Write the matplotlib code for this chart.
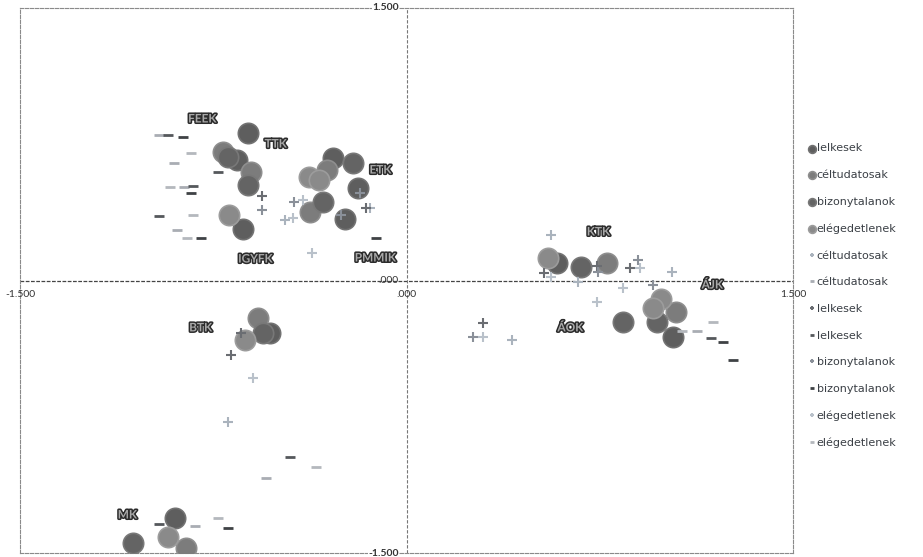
import matplotlib
matplotlib.use("Agg")
import matplotlib.pyplot as plt
import matplotlib.patheffects as pe

plt.rcParams['font.family'] = ['Lato', 'DejaVu Sans']

# --- Faculty group centroids (large circles) ---
kor_lelkesek_x = [-0.617, -0.656, -0.636, -0.287, -0.190, -0.237, 0.586, 1.036, -0.528, -0.900]
kor_lelkesek_y = [0.812, 0.663, 0.283, 0.674, 0.509, 0.338, 0.096, -0.311, -0.289, -1.307]
kor_celtudatosak_x = [-0.714, -0.605, -0.307, -0.373, 0.780, 1.044, -0.578, -0.854]
kor_celtudatosak_y = [0.707, 0.597, 0.608, 0.377, 0.096, -0.173, -0.206, -1.472]
kor_bizonytalanok_x = [-0.691, -0.617, -0.206, -0.326, 0.679, 0.842, 0.974, -0.555, -1.063]
kor_bizonytalanok_y = [0.680, 0.526, 0.647, 0.432, 0.074, -0.228, -0.228, -0.289, -1.445]
kor_elegedetlenek_x = [-0.687, -0.380, -0.341, 0.551, 0.986, 0.958, -0.625, -0.927]
kor_elegedetlenek_y = [0.360, 0.570, 0.553, 0.124, -0.102, -0.151, -0.327, -1.412]

# --- Plus-marker series ---
plusz_celtudatosak_x = [0.559, 0.411, -0.691, -0.470, 0.664, 1.032, -0.140]
plusz_celtudatosak_y = [0.250, -0.327, -0.779, 0.333, -0.008, 0.047, 0.399]
plusz_lelkesek_x = [-0.559, -0.159, 0.295, 0.741, 0.869, -0.644, -0.683, 0.532]
plusz_lelkesek_y = [0.465, 0.399, -0.234, 0.080, 0.069, -0.289, -0.410, 0.041]
plusz_bizonytalanok_x = [-0.559, -0.438, -0.256, 0.745, 0.900, 0.958, 0.260, -0.179]
plusz_bizonytalanok_y = [0.388, 0.432, 0.360, 0.047, 0.113, -0.025, -0.311, 0.482]
plusz_elegedetlenek_x = [-0.400, -0.442, -0.365, 0.559, 0.842, 0.741, 0.908, 0.295, -0.594]
plusz_elegedetlenek_y = [0.443, 0.344, 0.151, 0.019, -0.041, -0.118, 0.069, -0.311, -0.537]

# --- Dash-marker series ---
vonal_celtudatosak_x = [-0.962, -0.904, -0.865, -0.889, 1.129, -0.547, -0.819]
vonal_celtudatosak_y = [0.801, 0.647, 0.515, 0.278, -0.278, -1.087, -1.351]
vonal_lelkesek_x = [-0.927, -0.730, -0.962, 1.180, -0.454, -0.962, -0.827]
vonal_lelkesek_y = [0.801, 0.597, 0.355, -0.316, -0.971, -1.340, 0.520]
vonal_bizonytalanok_x = [-0.869, -0.838, -0.799, -0.120, 1.230, 1.269, -0.691]
vonal_bizonytalanok_y = [0.790, 0.482, 0.234, 0.234, -0.338, -0.438, -1.362]
vonal_elegedetlenek_x = [-0.838, -0.916, -0.827, -0.850, 1.191, 1.071, -0.353, -0.733]
vonal_elegedetlenek_y = [0.702, 0.515, 0.360, 0.234, -0.228, -0.278, -1.026, -1.307]

# --- Faculty labels ---
kar_nevek = ["FEEK", "TTK", "ETK", "IGYFK", "PMMIK", "KTK", "ÁJK", "ÁOK", "BTK", "MK"]
kar_x = [-0.792, -0.508, -0.101, -0.586, -0.120, 0.745, 1.187, 0.636, -0.799, -1.083]
kar_y = [0.889, 0.751, 0.608, 0.118, 0.124, 0.267, -0.025, -0.261, -0.261, -1.291]

# --- Axis value labels ---
tengely_min, tengely_max = -1.5, 1.5
x_felirat = ["-1.500", ".000", "1.500"]
y_felirat = ["1.500", ".000", "-1.500"]

W, H = 923, 557
fig = plt.figure(figsize=(W / 100, H / 100), dpi=100)
ax = fig.add_axes([20 / W, 1 - 553 / H, (793 - 20) / W, (553 - 8) / H])
ax.set_xlim(tengely_min, tengely_max)
ax.set_ylim(tengely_min, tengely_max)
ax.set_xticks([])
ax.set_yticks([])
for s in ax.spines.values():
    s.set_linestyle((0, (3, 1.5)))
    s.set_color('#8a8a8a')
    s.set_linewidth(0.8)

ax.axhline(0, color='#444444', lw=0.9, ls=(0, (3, 1.2)), zorder=1)
ax.axvline(0, color='#777777', lw=0.8, ls=(0, (3, 1.5)), zorder=1)

kor_stilus = dict(s=215, linewidths=1.2, zorder=3)
h1 = ax.scatter(kor_lelkesek_x, kor_lelkesek_y, c='#5e5e5e', edgecolors='#727272', **kor_stilus)
h2 = ax.scatter(kor_celtudatosak_x, kor_celtudatosak_y, c='#7c7c7c', edgecolors='#8e8e8e', **kor_stilus)
h3 = ax.scatter(kor_bizonytalanok_x, kor_bizonytalanok_y, c='#646464', edgecolors='#787878', **kor_stilus)
h4 = ax.scatter(kor_elegedetlenek_x, kor_elegedetlenek_y, c='#8a8a8a', edgecolors='#9c9c9c', **kor_stilus)

plusz = dict(ls='none', marker='+', ms=7.5, mew=1.5, zorder=4)
p_cel, = ax.plot(plusz_celtudatosak_x, plusz_celtudatosak_y, color='#aab3bd', **plusz)
p_lel, = ax.plot(plusz_lelkesek_x, plusz_lelkesek_y, color='#6a6d72', **plusz)
p_biz, = ax.plot(plusz_bizonytalanok_x, plusz_bizonytalanok_y, color='#8a9099', **plusz)
p_ele, = ax.plot(plusz_elegedetlenek_x, plusz_elegedetlenek_y, color='#b9c1ca', **plusz)

vonal = dict(ls='none', marker='_', ms=7, mew=2.0, zorder=4)
v_cel, = ax.plot(vonal_celtudatosak_x, vonal_celtudatosak_y, color='#a9adb3', **vonal)
v_lel, = ax.plot(vonal_lelkesek_x, vonal_lelkesek_y, color='#55585c', **vonal)
v_biz, = ax.plot(vonal_bizonytalanok_x, vonal_bizonytalanok_y, color='#3f4245', **vonal)
v_ele, = ax.plot(vonal_elegedetlenek_x, vonal_elegedetlenek_y, color='#b4b8bd', **vonal)

for nev, x, y in zip(kar_nevek, kar_x, kar_y):
    ax.text(x, y, nev, ha='center', va='center', fontsize=8.5, fontweight='bold',
            color='#a8a8a8', zorder=6,
            path_effects=[pe.withStroke(linewidth=2.2, foreground='#2b2b2b')])

# value labels along the central axes
xpos = [tengely_min, 0.0, tengely_max]
for v, t in zip(xpos, x_felirat):
    ax.text(v, -0.075, t, ha='center', va='center', fontsize=7.5, color='#333333',
            clip_on=False, zorder=7)
ypos = [tengely_max, 0.0, tengely_min]
for v, t in zip(ypos, y_felirat):
    ax.text(-0.03, v, t, ha='right', va='center', fontsize=7.5, color='#333333',
            fontweight='bold' if v != 0 else 'normal', clip_on=False, zorder=7,
            bbox=dict(boxstyle='square,pad=0.05', fc='white', ec='none') if v != 0 else None)

handles = [h1, h2, h3, h4, p_cel, v_cel, p_lel, v_lel, p_biz, v_biz, p_ele, v_ele]
labels = ["lelkesek", "céltudatosak", "bizonytalanok", "elégedetlenek",
          "céltudatosak", "céltudatosak", "lelkesek", "lelkesek",
          "bizonytalanok", "bizonytalanok", "elégedetlenek", "elégedetlenek"]
leg = fig.legend(handles, labels, loc='upper left', bbox_to_anchor=(805 / W, 1 - 139 / H),
                 frameon=False, prop={'family': 'DejaVu Sans', 'size': 8},
                 markerscale=0.38, handlelength=0.45, handletextpad=0.2,
                 labelspacing=1.5, borderaxespad=0)
for t in leg.get_texts():
    t.set_color('#3a3f45')

fig.savefig("out.png", dpi=100)
